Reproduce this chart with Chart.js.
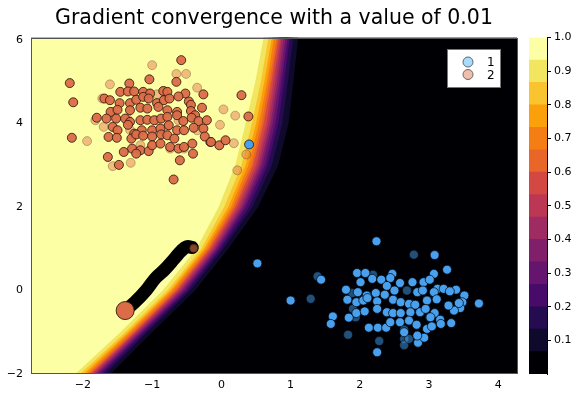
<!DOCTYPE html>
<html>
<head>
<meta charset="utf-8">
<script src="https://cdn.jsdelivr.net/npm/chart.js@4.4.1/dist/chart.umd.min.js"></script>
<style>
html, body { margin: 0; padding: 0; background: #fff; }
#wrap { position: relative; width: 576px; height: 394px; }
#main { position: absolute; left: 0; top: 0; }
#cbar { position: absolute; left: 520px; top: 0; }
</style>
</head>
<body>
<div id="wrap">
	<canvas id="main" width="576" height="394"></canvas>
	<canvas id="cbar" width="56" height="394"></canvas>
</div>
<script>
// ---- data ----
var xTicks = [-2, -1, 0, 1, 2, 3, 4];
var yTicks = [-2, 0, 2, 4, 6];
var cbarTicks = [0.1, 0.2, 0.3, 0.4, 0.5, 0.6, 0.7, 0.8, 0.9, 1.0];

// contour lines: x position of each level (1/15 .. 14/15) at these y rows
var contourYs = [6.06, 5, 4, 3, 2, 1, 0, -1, -2];
var contourX = [
	[1.11, 1.04, 0.97, 0.82, 0.53, 0.10, -0.38, -1.00, -1.60],
	[1.04, 0.96, 0.88, 0.73, 0.45, 0.03, -0.45, -1.07, -1.67],
	[0.99, 0.91, 0.82, 0.67, 0.40, -0.01, -0.49, -1.11, -1.72],
	[0.96, 0.87, 0.78, 0.63, 0.35, -0.04, -0.52, -1.14, -1.76],
	[0.93, 0.84, 0.74, 0.59, 0.32, -0.07, -0.55, -1.17, -1.79],
	[0.90, 0.81, 0.71, 0.56, 0.29, -0.09, -0.58, -1.19, -1.82],
	[0.87, 0.78, 0.68, 0.53, 0.26, -0.12, -0.60, -1.22, -1.84],
	[0.85, 0.75, 0.65, 0.50, 0.23, -0.14, -0.63, -1.24, -1.87],
	[0.82, 0.72, 0.61, 0.46, 0.20, -0.17, -0.65, -1.26, -1.89],
	[0.80, 0.69, 0.58, 0.43, 0.17, -0.19, -0.68, -1.29, -1.92],
	[0.76, 0.66, 0.54, 0.39, 0.14, -0.22, -0.71, -1.32, -1.95],
	[0.73, 0.62, 0.50, 0.35, 0.10, -0.25, -0.74, -1.35, -1.99],
	[0.68, 0.57, 0.44, 0.29, 0.04, -0.29, -0.78, -1.39, -2.04],
	[0.61, 0.49, 0.35, 0.20, -0.04, -0.36, -0.85, -1.46, -2.11]
];

// class 2 (orange), solid and faded markers
var class2Solid = [
	[-2.19,4.97],[-2.14,4.51],[-2.16,3.66],[-1.64,3.20],[-1.48,3.01],[-0.58,5.52],[-1.04,5.06],[-0.65,5.00],
	[-1.33,4.96],[0.29,4.68],[0.39,4.17],[-0.16,3.56],[-0.41,3.28],[-0.60,3.12],[-0.69,2.66],[-0.03,3.48],
	[0.06,3.60],[-0.28,4.38],[-0.26,4.70],[-0.47,4.53],[-0.52,4.72],
	[-1.46,4.76],[-1.35,4.77],[-1.26,4.77],[-1.13,4.76],[-1.03,4.72],[-0.84,4.78],[-0.78,4.76],
	[-1.69,4.60],[-1.61,4.56],[-1.47,4.49],[-1.32,4.49],[-1.23,4.57],[-1.13,4.64],[-1.05,4.60],[-0.93,4.49],
	[-0.83,4.56],[-0.75,4.60],[-0.62,4.65],[-0.44,4.45],
	[-1.60,4.28],[-1.50,4.33],[-1.32,4.32],[-1.17,4.38],[-1.07,4.36],[-0.91,4.40],[-0.78,4.32],[-0.64,4.28],
	[-0.44,4.30],[-0.38,4.20],
	[-1.80,4.14],[-1.66,4.12],[-1.52,4.12],[-1.39,4.12],[-1.32,4.04],[-1.17,4.08],[-1.07,4.09],[-0.97,4.08],
	[-0.87,4.12],[-0.78,4.16],[-0.64,4.20],[-0.55,4.06],[-0.43,4.14],[-0.33,4.06],[-0.21,4.08],
	[-1.57,3.92],[-1.50,3.84],[-1.35,3.97],[-1.26,3.76],[-1.15,3.84],[-1.00,3.84],[-0.88,3.88],[-0.76,3.96],
	[-0.64,3.84],[-0.54,3.84],[-0.40,3.90],[-0.26,3.88],
	[-1.63,3.68],[-1.51,3.66],[-1.30,3.64],[-1.23,3.74],[-1.13,3.71],[-1.00,3.69],[-0.87,3.74],[-0.78,3.72],
	[-0.68,3.64],[-0.24,3.69],[-0.15,3.56],
	[-1.29,3.40],[-1.17,3.36],[-1.05,3.34],[-1.00,3.48],[-0.88,3.52],[-0.74,3.44],[-0.62,3.40],[-0.54,3.44],
	[-0.42,3.52],[-1.41,3.32],[-1.23,3.28]
];
var class2Faded = [
	[-0.65,5.19],[-0.51,5.19],[-1.00,5.40],[-1.61,4.94],[-1.94,3.58],[-1.57,2.98],[-1.31,3.06],[-0.35,4.86],
	[0.03,4.34],[0.20,4.19],[0.18,3.53],[0.23,2.88],[0.36,3.26],[-0.02,3.97],
	[-1.72,4.60],[-1.82,4.08],[-1.70,3.92],[-1.57,4.28],[-0.93,4.70],[-0.83,4.78],[-1.05,4.72],[-0.78,3.92],
	[-1.17,3.48],[-0.74,3.40],[-0.54,3.40],[-0.35,3.84],[-1.32,3.85],[-1.36,4.12],[-0.62,4.08],[-0.93,4.08]
];

// class 1 (blue), solid and faded markers
var class1Solid = [
	[2.24,1.18],[3.08,0.85],[3.26,0.50],[1.00,-0.24],[3.72,-0.31],[1.61,-0.62],[1.58,-0.80],[2.25,-1.48],
	[2.64,-1.00],[2.84,-1.25],[2.93,-1.13],[2.83,-1.08],[3.51,-0.12],[3.48,-0.28],[3.45,-0.42],[3.36,-0.48],
	[3.39,0.02],[3.07,0.40],[2.47,0.40],[1.96,0.42],[2.08,0.42],[1.44,0.26],[0.40,3.50],[0.52,0.65],
	[2.01,0.20],[2.18,0.28],[2.31,0.26],[2.44,0.30],[2.58,0.18],[2.76,0.20],[2.92,0.20],[3.01,0.26],
	[3.12,0.04],[3.21,0.04],
	[1.80,0.02],[1.97,-0.04],[2.10,-0.12],[2.23,-0.06],[2.39,0.11],[2.50,0.00],[2.83,-0.04],[2.91,0.00],
	[3.07,-0.04],[3.30,-0.02],
	[1.82,-0.22],[1.95,-0.28],[2.05,-0.24],[2.11,-0.18],[2.25,-0.26],[2.36,-0.10],[2.48,-0.22],[2.59,-0.28],
	[2.71,-0.32],[2.80,-0.34],[2.97,-0.24],[3.11,-0.21],[3.28,-0.36],[3.43,-0.30],
	[1.84,-0.65],[1.95,-0.54],[2.07,-0.50],[2.25,-0.44],[2.39,-0.52],[2.48,-0.54],[2.59,-0.54],[2.73,-0.52],
	[2.87,-0.52],[3.08,-0.54],[3.16,-0.70],[3.32,-0.78],[2.95,-0.44],[3.02,-0.64],
	[2.13,-0.89],[2.26,-0.89],[2.38,-0.89],[2.44,-0.76],[2.58,-0.76],[2.71,-0.72],[2.82,-0.82],[2.97,-0.92],
	[3.04,-0.86],[3.17,-0.80]
];
var class1Faded = [
	[2.78,0.86],[1.39,0.34],[1.29,-0.20],[1.83,-1.06],[2.28,-1.21],[2.64,-1.16],[2.64,-1.31],[2.19,0.38],
	[1.89,-0.06],[1.90,-0.44],[1.94,-0.64],[2.68,0.00],[2.73,-0.32],[3.01,-0.65],[2.64,-0.94],[2.71,-1.16]
];

// gradient path
var pathX = [-1.39, -1.25, -1.08, -0.95, -0.82, -0.68, -0.58, -0.50, -0.42];
var pathY = [-0.48, -0.28, 0.02, 0.30, 0.50, 0.76, 0.95, 1.05, 1.03];
var pathStart = [-1.39, -0.48];
var pathEnd = [-0.40, 1.01];

// ---- styles ----
var bandColors = ['#000004', '#0f092c', '#250b50', '#480b6a', '#65156e', '#821f6b', '#9f2b63', '#bc3754',
	'#d34842', '#ea6528', '#f57e14', '#fb9f0a', '#f9c42e', '#f2e661', '#fcffa4'];
var xMin = -2.75, xMax = 4.27, yMin = -2, yMax = 6.06;
var FONT = '"DejaVu Sans", "Liberation Sans", sans-serif';

function pts(list) { return list.map(function(p) { return {x: p[0], y: p[1]}; }); }
function fmt(v) { return v < 0 ? '\u2212' + Math.abs(v) : String(v); }

var datasets = [];

// filled contour regions: area left of each level line
contourX.forEach(function(row, i) {
	var k = i + 1;
	var poly = contourYs.map(function(y, j) { return {x: row[j], y: y}; });
	poly.push({x: xMin - 1, y: yMin});
	poly.push({x: xMin - 1, y: yMax});
	datasets.push({
		type: 'line', data: poly, fill: 'shape', backgroundColor: bandColors[k],
		borderWidth: 0, pointRadius: 0, tension: 0, order: 100 - k
	});
});

datasets.push({type: 'scatter', data: pts(class2Faded), backgroundColor: 'rgba(227,111,71,0.45)',
	borderColor: 'rgba(60,30,20,0.3)', borderWidth: 1, pointRadius: 4.5, order: 12});
datasets.push({type: 'scatter', label: '2', legendColor: 'rgba(227,111,71,0.45)', data: pts(class2Solid),
	backgroundColor: 'rgba(218,108,72,0.95)', borderColor: 'rgba(50,25,15,0.85)', borderWidth: 1, pointRadius: 4.5, order: 11});
datasets.push({type: 'scatter', data: pts(class1Faded), backgroundColor: 'rgba(66,160,240,0.5)',
	borderColor: 'rgba(0,0,0,0.5)', borderWidth: 1, pointRadius: 4.5, order: 10});
datasets.push({type: 'scatter', label: '1', legendColor: 'rgba(0,154,250,0.35)', data: pts(class1Solid),
	backgroundColor: 'rgba(72,160,238,1)', borderColor: 'rgba(0,0,0,0.7)', borderWidth: 1, pointRadius: 4.5, order: 9});

datasets.push({type: 'line', data: pathX.map(function(x, i) { return {x: x, y: pathY[i]}; }),
	borderColor: '#000', borderWidth: 13, borderCapStyle: 'round', borderJoinStyle: 'round',
	tension: 0.4, pointRadius: 0, fill: false, order: 3});
datasets.push({type: 'scatter', data: pts([pathEnd]), backgroundColor: 'rgba(227,111,71,0.6)',
	borderColor: 'rgba(60,30,20,0.6)', borderWidth: 1, pointRadius: 4, order: 2});
datasets.push({type: 'scatter', data: pts([pathStart]), backgroundColor: 'rgba(218,108,72,1)',
	borderColor: 'rgba(50,25,15,0.9)', borderWidth: 1, pointRadius: 9, order: 1});

var plotFrame = {
	id: 'plotFrame',
	beforeDraw: function(chart) {
		var a = chart.chartArea, ctx = chart.ctx;
		ctx.save();
		ctx.fillStyle = bandColors[0];
		ctx.fillRect(a.left, a.top, a.right - a.left, a.bottom - a.top);
		ctx.restore();
	},
	afterDatasetsDraw: function(chart) {
		var a = chart.chartArea, ctx = chart.ctx;
		ctx.save();
		ctx.strokeStyle = '#555';
		ctx.lineWidth = 1;
		ctx.strokeRect(Math.round(a.left) + 0.5, Math.round(a.top) + 0.5,
			Math.round(a.right - a.left), Math.round(a.bottom - a.top) - 1);
		ctx.restore();
	}
};

var legendBox = {
	id: 'legendBox',
	afterDraw: function(chart) {
		var a = chart.chartArea, ctx = chart.ctx;
		var items = chart.data.datasets.filter(function(d) { return d.label; });
		items.sort(function(p, q) { return p.label.localeCompare(q.label); });
		var w = 53, h = 38, x = Math.round(a.right - 17 - w), y = Math.round(a.top + 11);
		ctx.save();
		ctx.fillStyle = '#fff';
		ctx.fillRect(x, y, w, h);
		ctx.strokeStyle = '#777';
		ctx.lineWidth = 1;
		ctx.strokeRect(x + 0.5, y + 0.5, w, h);
		items.forEach(function(d, i) {
			var cy = y + 13 + i * 12.5;
			ctx.beginPath();
			ctx.arc(x + 21, cy, 5, 0, Math.PI * 2);
			ctx.fillStyle = d.legendColor;
			ctx.fill();
			ctx.strokeStyle = '#666';
			ctx.stroke();
			ctx.fillStyle = '#000';
			ctx.font = '12px ' + FONT;
			ctx.textBaseline = 'middle';
			ctx.textAlign = 'left';
			ctx.fillText(d.label, x + 40, cy + 1);
		});
		ctx.restore();
	}
};

new Chart(document.getElementById('main'), {
	type: 'line',
	data: {datasets: datasets},
	options: {
		responsive: false,
		animation: false,
		layout: {padding: {left: 0, right: 59, top: 0, bottom: 0}},
		plugins: {
			legend: {display: false},
			tooltip: {enabled: false},
			title: {
				display: true, fullSize: false,
				text: 'Gradient convergence with a value of 0.01',
				color: '#000', font: {family: FONT, size: 20.5, weight: 'normal', lineHeight: 1.2},
				padding: {top: 6, bottom: 7}
			}
		},
		scales: {
			x: {
				type: 'linear', min: xMin, max: xMax,
				afterBuildTicks: function(s) { s.ticks = xTicks.map(function(v) { return {value: v}; }); },
				afterFit: function(s) { s.height = 20; },
				ticks: {color: '#000', font: {family: FONT, size: 11}, padding: 5, maxRotation: 0,
					callback: function(v) { return fmt(v); }},
				grid: {display: false, drawTicks: false},
				border: {display: false}
			},
			y: {
				type: 'linear', min: yMin, max: yMax,
				afterBuildTicks: function(s) { s.ticks = yTicks.map(function(v) { return {value: v}; }); },
				afterFit: function(s) { s.width = 31; },
				ticks: {color: '#000', font: {family: FONT, size: 11}, padding: 8,
					callback: function(v) { return fmt(v); }},
				grid: {display: false, drawTicks: false},
				border: {display: false}
			}
		}
	},
	plugins: [plotFrame, legendBox]
});

// colorbar
new Chart(document.getElementById('cbar'), {
	type: 'bar',
	data: {
		labels: [''],
		datasets: bandColors.map(function(c) {
			return {data: [1 / 15], backgroundColor: c, borderWidth: 0, barPercentage: 1, categoryPercentage: 1};
		})
	},
	options: {
		responsive: false,
		animation: false,
		layout: {padding: {left: 9, right: 0, top: 37.6, bottom: 20}},
		plugins: {legend: {display: false}, tooltip: {enabled: false}},
		scales: {
			x: {stacked: true, display: false},
			y: {
				stacked: true, position: 'right', min: 0, max: 1,
				afterBuildTicks: function(s) { s.ticks = cbarTicks.map(function(v) { return {value: v}; }); },
				afterFit: function(s) { s.width = 29; },
				ticks: {color: '#000', font: {family: FONT, size: 11}, padding: 3,
					callback: function(v) { return v.toFixed(1); }},
				grid: {drawOnChartArea: false, tickLength: 4, tickColor: '#000'},
				border: {display: true, color: '#000'}
			}
		}
	}
});
</script>
</body>
</html>
